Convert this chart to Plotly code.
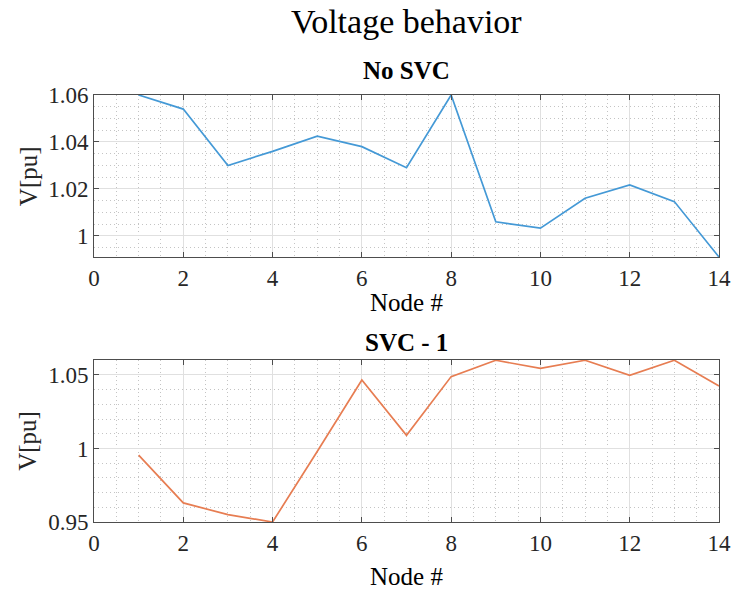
import plotly.graph_objects as go

# Bus voltages (per unit) for the 14-node system
nodes = list(range(1, 15))
v_no_svc = [1.060, 1.054, 1.030, 1.036, 1.0425, 1.038, 1.029,
            1.060, 1.006, 1.0033, 1.016, 1.0217, 1.0146, 0.991]
v_svc_1 = [0.9955, 0.963, 0.955, 0.950, 0.998, 1.0466, 1.009,
           1.0489, 1.060, 1.0545, 1.060, 1.0498, 1.060, 1.0425]

x_ticks = list(range(0, 15, 2))
top_yticks = [1.0, 1.02, 1.04, 1.06]
top_ylabels = ["1", "1.02", "1.04", "1.06"]
bot_yticks = [0.95, 1.0, 1.05]
bot_ylabels = ["0.95", "1", "1.05"]

FONT = "Liberation Serif"
AX_COLOR = "#4d4d4d"
TXT_COLOR = "#262626"
TICK_FONT = dict(family=FONT, size=23, color=TXT_COLOR)
MAJOR_GRID = "#e0e0e0"
MINOR_GRID = "#c4c4c4"
MINOR_DASH = "1px,3px"

fig = go.Figure()
fig.add_trace(go.Scatter(x=nodes, y=v_no_svc, mode="lines",
                         line=dict(color="#4499D6", width=1.7),
                         xaxis="x", yaxis="y", showlegend=False))
fig.add_trace(go.Scatter(x=nodes, y=v_svc_1, mode="lines",
                         line=dict(color="#E77D52", width=1.7),
                         xaxis="x2", yaxis="y2", showlegend=False))


def x_axis(anchor):
    return dict(
        domain=[0, 1], anchor=anchor, range=[0, 14], automargin=False,
        tickvals=x_ticks, ticktext=[str(t) for t in x_ticks],
        ticks="inside", ticklen=5, tickcolor=AX_COLOR,
        showline=True, linecolor=AX_COLOR, linewidth=1, mirror="allticks",
        showgrid=True, gridcolor=MAJOR_GRID, gridwidth=1,
        minor=dict(dtick=0.5, tick0=0, showgrid=True, gridcolor=MINOR_GRID,
                   griddash=MINOR_DASH, gridwidth=1, ticks=""),
        zeroline=False, tickfont=TICK_FONT,
    )


def y_axis(anchor, domain, rng, vals, labels, minor_step):
    return dict(
        domain=domain, anchor=anchor, range=rng, automargin=False,
        tickvals=vals, ticktext=labels,
        ticks="inside", ticklen=5, tickcolor=AX_COLOR,
        showline=True, linecolor=AX_COLOR, linewidth=1, mirror="allticks",
        showgrid=True, gridcolor=MAJOR_GRID, gridwidth=1,
        minor=dict(dtick=minor_step, tick0=0.95, showgrid=True,
                   gridcolor=MINOR_GRID, griddash=MINOR_DASH, gridwidth=1,
                   ticks=""),
        zeroline=False, tickfont=TICK_FONT,
    )


top_dom = [0.6206, 1.0]
bot_dom = [0.0, 0.3794]

fig.update_layout(
    width=732, height=589,
    margin=dict(l=94, r=13, t=95, b=67, autoexpand=False),
    font=dict(family=FONT, size=23, color=TXT_COLOR),
    paper_bgcolor="white", plot_bgcolor="white",
    xaxis=x_axis("y"),
    yaxis=y_axis("x", top_dom, [min(v_no_svc), max(v_no_svc)],
                 top_yticks, top_ylabels, 0.005),
    xaxis2=x_axis("y2"),
    yaxis2=y_axis("x2", bot_dom, [min(v_svc_1), max(v_svc_1) + 0.0002],
                  bot_yticks, bot_ylabels, 0.01),
)

annotations = [
    dict(text="Voltage behavior", y=1.171, size=34),
    dict(text="<b>No SVC</b>", y=1.0585, size=25),
    dict(text="Node #", y=0.515, size=25),
    dict(text="<b>SVC - 1</b>", y=0.4215, size=25),
    dict(text="Node #", y=-0.1288, size=25),
]
for a in annotations:
    fig.add_annotation(text=a["text"], x=0.5, y=a["y"], xref="paper",
                       yref="paper", showarrow=False, xanchor="center",
                       yanchor="middle",
                       font=dict(family=FONT, size=a["size"], color="black"))

for yc in (0.810, 0.19):
    fig.add_annotation(text="V[pu]", x=-0.1056, y=yc, xref="paper",
                       yref="paper", showarrow=False, textangle=-90,
                       xanchor="center", yanchor="middle",
                       font=dict(family=FONT, size=25, color=TXT_COLOR))

fig.write_html("out.html")
